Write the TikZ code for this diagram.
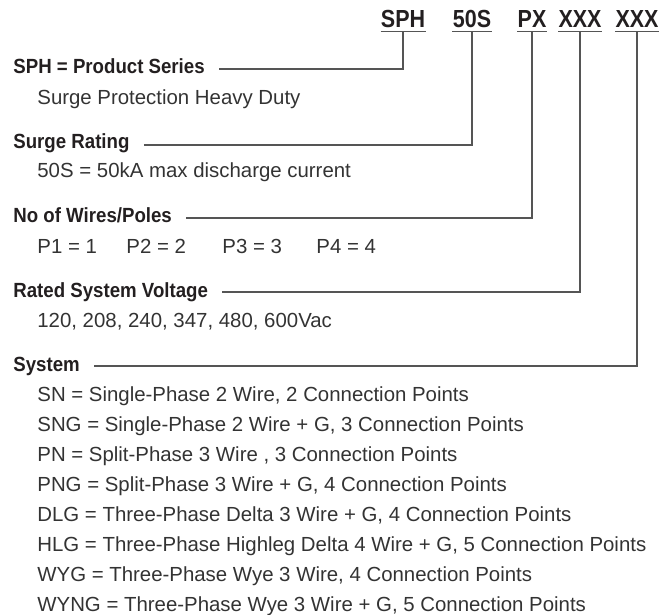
\documentclass[tikz,border=0pt]{standalone}
\usepackage{fontspec}
\setmainfont{Liberation Sans}
\newfontfamily\headfont[FakeStretch=0.91]{Liberation Sans}
\newfontfamily\codefont[FakeStretch=0.87]{Liberation Sans}
\usetikzlibrary{calc}
\definecolor{inkdark}{HTML}{231F20}
\definecolor{inkbody}{HTML}{333333}
\definecolor{leadgray}{HTML}{555555}
\tikzset{
  % texte
  hd/.style={anchor=base west,inner sep=0pt,text=inkdark,
             font=\headfont\bfseries\fontsize{10.25}{12}\selectfont},
  bd/.style={anchor=base west,inner sep=0pt,text=inkbody,
             font=\fontsize{10.2}{12.4}\selectfont},
  cd/.style={anchor=south,inner xsep=0pt,inner ysep=1.75pt,text=inkdark,
             font=\codefont\bfseries\fontsize{12.35}{14}\selectfont},
  % linjer
  lead/.style={draw=leadgray,line width=0.65pt},
}
\begin{document}
\begin{tikzpicture}[x=0.5pt,y=-0.5pt]
  \useasboundingbox (0,0) rectangle (667,614);
  % kod
  \node[cd] (cSPH) at (403,31.5) {SPH};
  \node[cd] (c50S) at (472,31.5) {50S};
  \node[cd] (cPX)  at (532,31.5) {PX};
  \node[cd] (cV)   at (580,31.5) {XXX};
  \node[cd] (cS)   at (637,31.5) {XXX};
  \foreach \c in {cSPH,c50S,cPX,cV,cS}
    \draw[lead] (\c.south west) -- (\c.south east);
  % rubriker
  \node[hd] (hSPH) at (13,74)  {SPH = Product Series};
  \node[hd] (h50S) at (13,149) {Surge Rating};
  \node[hd] (hPX)  at (13,223) {No of Wires/Poles};
  \node[hd] (hV)   at (13,297) {Rated System Voltage};
  \node[hd] (hS)   at (13,371) {System};
  % beskrivningar
  \node[bd] (bSPH) at (37,105) {Surge Protection Heavy Duty};
  \node[bd] (b50S) at (37,178) {50S = 50kA max discharge current};
  \node[bd] (p1) at (37,253)  {P1 = 1};
  \node[bd] (p2) at (126,253) {P2 = 2};
  \node[bd] (p3) at (222,253) {P3 = 3};
  \node[bd] (p4) at (316,253) {P4 = 4};
  \node[bd] (bV) at (37,327) {120, 208, 240, 347, 480, 600Vac};
  \node[bd] (s1) at (37,401) {SN = Single-Phase 2 Wire, 2 Connection Points};
  \node[bd] (s2) at (37,431) {SNG = Single-Phase 2 Wire + G, 3 Connection Points};
  \node[bd] (s3) at (37,461) {PN = Split-Phase 3 Wire , 3 Connection Points};
  \node[bd] (s4) at (37,491) {PNG = Split-Phase 3 Wire + G, 4 Connection Points};
  \node[bd] (s5) at (37,521) {DLG = Three-Phase Delta 3 Wire + G, 4 Connection Points};
  \node[bd] (s6) at (37,551) {HLG = Three-Phase Highleg Delta 4 Wire + G, 5 Connection Points};
  \node[bd] (s7) at (37,581) {WYG = Three-Phase Wye 3 Wire, 4 Connection Points};
  \node[bd] (s8) at (37,611) {WYNG = Three-Phase Wye 3 Wire + G, 5 Connection Points};
  % ledare
  \draw[lead] ($(hSPH.base east)+(14,-5)$) -| (cSPH.south);
  \draw[lead] ($(h50S.base east)+(14,-4)$) -| (c50S.south);
  \draw[lead] ($(hPX.base east)+(14,-5)$)  -| (cPX.south);
  \draw[lead] ($(hV.base east)+(14,-5)$)   -| (cV.south);
  \draw[lead] ($(hS.base east)+(14,-5)$)   -| (cS.south);
\end{tikzpicture}
\end{document}
